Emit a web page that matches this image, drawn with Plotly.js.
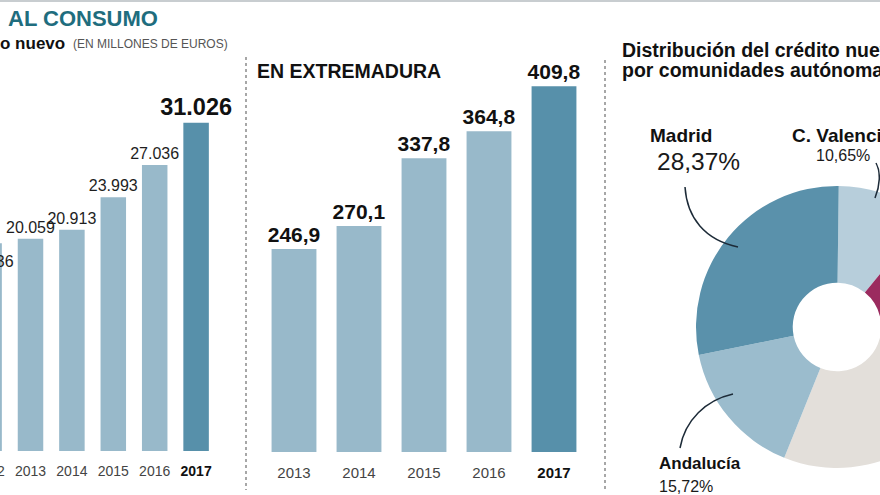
<!DOCTYPE html>
<html><head><meta charset="utf-8">
<script src="https://cdn.plot.ly/plotly-3.0.1.min.js"></script>
<style>
html,body{margin:0;padding:0;overflow:hidden;background:#fff;width:880px;height:495px;position:relative}
#chart{position:absolute;left:-40px;top:0;width:1040px;height:495px}
</style>
</head><body><div id="chart"></div>
<script>
// ---- data ----
const years_es = [2012, 2013, 2014, 2015, 2016, 2017];
const credit_es = [19636, 20059, 20913, 23993, 27036, 31026];
const years_ex = [2013, 2014, 2015, 2016, 2017];
const credit_ex = [246.9, 270.1, 337.8, 364.8, 409.8];
const regions = ['C. Valenciana', 'Cataluña', 'País Vasco', 'Resto', 'Andalucía', 'Madrid'];
const shares = [10.65, 11.0, 3.5, 30.76, 15.72, 28.37];
const shown_regions = ['Madrid', 'C. Valenciana', 'Andalucía'];

// ---- helpers ----
const OFF = 40, W = 1040, H = 495;
const px = x => (x + OFF) / W;
const py = y => 1 - y / H;
const FONT = 'Liberation Sans, Arial, Helvetica, sans-serif';
const LIGHT = '#98b9ca', DARK = '#5790aa';
const fmtThousands = v => String(Math.round(v)).replace(/\B(?=(\d{3})+(?!\d))/g, '.');
const fmtDec = v => v.toFixed(1).replace('.', ',');
const fmtPct = v => v.toFixed(2).replace('.', ',') + '%';
const lastYear = 2017;

const pick = (arr, ys, keep) => arr.filter((v, i) => keep(ys[i], i));
const isLast = y => y === lastYear;

const esRestX = pick(years_es, years_es, y => !isLast(y));
const esRestY = pick(credit_es, years_es, y => !isLast(y));
const esLastX = pick(years_es, years_es, isLast);
const esLastY = pick(credit_es, years_es, isLast);

const traces = [
  {
    type: 'bar', x: esRestX, y: esRestY, xaxis: 'x', yaxis: 'y',
    width: 0.616, marker: {color: LIGHT},
    text: esRestY.map((v, i) => i === 0 ? '' : fmtThousands(v)),
    textposition: 'outside',
    textfont: {family: FONT, size: 16, color: '#1e1e1e'},
    outsidetextfont: {family: FONT, size: 16, color: '#1e1e1e'},
    constraintext: 'none', cliponaxis: false, hoverinfo: 'skip'
  },
  {
    type: 'bar', x: esLastX, y: esLastY, xaxis: 'x', yaxis: 'y',
    width: 0.616, marker: {color: DARK},
    text: esLastY.map(v => '<b>' + fmtThousands(v) + '</b>'),
    textposition: 'outside',
    textfont: {family: FONT, size: 23.5, color: '#111'},
    constraintext: 'none', cliponaxis: false, hoverinfo: 'skip'
  },
  {
    // label of the first (cropped) year sits inside its bar top
    type: 'scatter', mode: 'markers+text', x: [years_es[0]], y: [credit_es[0]], xaxis: 'x', yaxis: 'y',
    marker: {size: 18, color: 'rgba(0,0,0,0)'},
    text: [fmtThousands(credit_es[0])], textposition: 'bottom center',
    textfont: {family: FONT, size: 16, color: '#1e1e1e'},
    cliponaxis: false, hoverinfo: 'skip', showlegend: false
  },
  {
    type: 'bar', x: years_ex, y: credit_ex, xaxis: 'x2', yaxis: 'y2',
    width: 0.69,
    marker: {color: years_ex.map(y => isLast(y) ? DARK : LIGHT)},
    text: credit_ex.map(v => '<b>' + fmtDec(v) + '</b>'),
    textposition: 'outside',
    textfont: {family: FONT, size: 21, color: '#111'},
    constraintext: 'none', cliponaxis: false, hoverinfo: 'skip'
  },
  {
    type: 'pie', labels: regions, values: shares, sort: false,
    direction: 'clockwise', rotation: 0.7, hole: 0.314,
    textinfo: 'none', hoverinfo: 'skip', showlegend: false,
    marker: {colors: ['#b7cedb', '#9b2b5f', '#2e5c48', '#e3dfda', '#9bbccd', '#5a91ab'], line: {width: 0}},
    domain: {x: [px(696), px(978)], y: [py(468), py(186)]}
  }
];

const tickText = ys => ys.map(y => isLast(y) ? '<b><span style="color:#111">' + y + '</span></b>' : String(y));

const ann = [];
function txt(text, x, y, size, opts) {
  ann.push(Object.assign({
    text: text, xref: 'paper', yref: 'paper', x: px(x), y: py(y),
    xanchor: 'left', yanchor: 'middle', showarrow: false,
    font: {family: FONT, size: size, color: '#111'}
  }, opts || {}));
}
txt('<b>AL CONSUMO</b>', 6, 18, 22, {font: {family: FONT, size: 22, color: '#1f6d7e'}});
txt('<b>o nuevo</b>', -2, 43, 17);
txt('(EN MILLONES DE EUROS)', 71, 44, 12, {font: {family: FONT, size: 12, color: '#555'}});
txt('<b>EN EXTREMADURA</b>', 255, 71, 19.5);
txt('<b>Distribución del crédito nuevo</b>', 620, 50, 19.5);
txt('<b>por comunidades autónomas</b>', 620, 70, 19.5);

const labelPos = {
  'Madrid': {x: 648, y: 135, s1: 19, px2: 655, py2: 161, s2: 24.5},
  'C. Valenciana': {x: 790, y: 135, s1: 19, px2: 814, py2: 155, s2: 16},
  'Andalucía': {x: 657, y: 463, s1: 17, px2: 657, py2: 486, s2: 16}
};
shown_regions.forEach(r => {
  const p = labelPos[r];
  txt('<b>' + r + '</b>', p.x, p.y, p.s1);
  txt(fmtPct(shares[regions.indexOf(r)]), p.px2, p.py2, p.s2, {font: {family: FONT, size: p.s2, color: '#1a1a1a'}});
});

// connector curves (page pixel coords -> paper)
function curve(pts) {
  const c = pts.map(p => px(p[0]).toFixed(5) + ',' + py(p[1]).toFixed(5));
  return 'M' + c[0] + ' C' + c[1] + ' ' + c[2] + ' ' + c[3];
}
const shapes = [
  {type: 'line', xref: 'paper', yref: 'paper', x0: 0, x1: 1, y0: py(1), y1: py(1), line: {color: '#c8cdd0', width: 2}},
  {type: 'line', xref: 'paper', yref: 'paper', x0: px(246), x1: px(246), y0: py(57), y1: py(490), line: {color: '#8a8a8a', width: 1.5, dash: 'dot'}},
  {type: 'line', xref: 'paper', yref: 'paper', x0: px(605), x1: px(605), y0: py(60), y1: py(490), line: {color: '#8a8a8a', width: 1.5, dash: 'dot'}},
  {type: 'path', xref: 'paper', yref: 'paper', path: curve([[685, 187], [687, 218], [705, 240], [738, 247]]), line: {color: '#1d2b38', width: 1.5}},
  {type: 'path', xref: 'paper', yref: 'paper', path: curve([[876, 163], [881, 172], [880, 186], [875, 198]]), line: {color: '#1d2b38', width: 1.5}},
  {type: 'path', xref: 'paper', yref: 'paper', path: curve([[680, 448], [685, 420], [706, 400], [733, 394]]), line: {color: '#1d2b38', width: 1.5}}
];

const axisX = (dom, rng, ys, fs) => ({
  domain: dom, range: rng, tickmode: 'array', tickvals: ys, ticktext: tickText(ys),
  showgrid: false, zeroline: false, showline: false, ticks: '', ticklabelstandoff: 10,
  tickfont: {family: FONT, size: fs, color: '#444'}, fixedrange: true
});
const axisY = (dom, rng) => ({
  domain: dom, range: rng, visible: false, showgrid: false, zeroline: false, fixedrange: true
});

const layout = {
  width: W, height: H, margin: {l: 0, r: 0, t: 0, b: 0},
  paper_bgcolor: '#fff', plot_bgcolor: 'rgba(0,0,0,0)', showlegend: false,
  barmode: 'overlay',
  font: {family: FONT},
  xaxis: Object.assign(axisX([px(-31.6), px(216.8)], [2011.5, 2017.5], years_es, 14), {anchor: 'y'}),
  yaxis: Object.assign(axisY([py(451), py(59.5)], [0, 37000]), {anchor: 'x'}),
  xaxis2: Object.assign(axisX([px(261.5), px(586.5)], [2012.5, 2017.5], years_ex, 15), {anchor: 'y2'}),
  yaxis2: Object.assign(axisY([py(452), py(40)], [44, 456]), {anchor: 'x2'}),
  annotations: ann, shapes: shapes
};

Plotly.newPlot('chart', traces, layout, {displayModeBar: false, staticPlot: true});
</script>
</body></html>
